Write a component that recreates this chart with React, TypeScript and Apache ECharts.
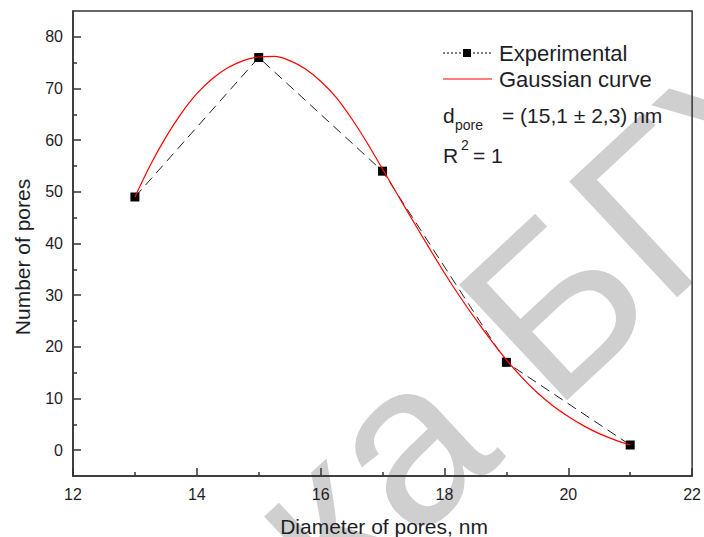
import React, { useEffect, useRef } from "react";
import * as echarts from "echarts";

const expX = [13, 15, 17, 19, 21];
const expY = [49, 76, 54, 17, 1];

const fitX = [13.0, 13.25, 13.5, 13.75, 14.0, 14.25, 14.5, 14.75, 15.0, 15.25, 15.5, 15.75, 16.0, 16.25, 16.5, 16.75, 17.0, 17.25, 17.5, 17.75, 18.0, 18.25, 18.5, 18.75, 19.0, 19.25, 19.5, 19.75, 20.0, 20.25, 20.5, 20.75, 21.0];
const fitY = [49, 55.2, 60.6, 65.2, 69.0, 71.9, 74.0, 75.4, 76.1, 76.2, 75.4, 73.8, 71.4, 68.3, 64.2, 59.5, 54.4, 49.3, 44.2, 39.2, 34.3, 29.7, 25.4, 21.3, 17.5, 14.1, 11.1, 8.6, 6.5, 4.7, 3.2, 2.0, 1.0];

const yMajorTicks = [0, 10, 20, 30, 40, 50, 60, 70, 80];
const yMinorTicks = [5, 15, 25, 35, 45, 55, 65, 75];

const FONT = "Liberation Sans, Arial, sans-serif";
const TXT = "#1e1e28";
const AX = "#333";

export default function App() {
  const ref = useRef<HTMLDivElement>(null);
  useEffect(() => {
    if (!ref.current) return;
    const chart = echarts.init(ref.current, null, { renderer: "svg" });
    const t = (text: string, x: number, y: number, size: number, extra: any = {}) => ({
      type: "text",
      x,
      y,
      z: 100,
      ...extra,
      style: {
        text,
        fontSize: size,
        fontFamily: FONT,
        fill: TXT,
        align: "left",
        verticalAlign: "middle",
        textAlign: "left",
        textVerticalAlign: "middle",
        ...(extra.style || {}),
      },
    });
    chart.setOption({
      animation: false,
      backgroundColor: "#fff",
      grid: {
        left: 73,
        right: 8,
        top: 11,
        bottom: 61,
        show: true,
        borderColor: AX,
        borderWidth: 1.5,
        backgroundColor: "transparent",
      },
      xAxis: {
        type: "value",
        min: 12,
        max: 22,
        interval: 2,
        axisLine: { show: true, onZero: false, lineStyle: { color: AX, width: 1.5 } },
        axisTick: { show: true, inside: true, length: 8, lineStyle: { color: AX, width: 1.5 } },
        minorTick: { show: true, splitNumber: 2, length: 4, lineStyle: { color: AX, width: 1.5 } },
        splitLine: { show: false },
        minorSplitLine: { show: false },
        axisLabel: { color: TXT, fontSize: 16, fontFamily: FONT, margin: 10 },
      },
      yAxis: [
        {
          type: "value",
          min: -5,
          max: 85,
          interval: 5,
          axisLine: { show: true, onZero: false, lineStyle: { color: AX, width: 1.5 } },
          axisTick: { show: true, inside: true, length: 8, customValues: yMajorTicks, lineStyle: { color: AX, width: 1.5 } },
          splitLine: { show: false },
          axisLabel: { color: TXT, fontSize: 16, fontFamily: FONT, margin: 10, customValues: yMajorTicks },
        },
        {
          type: "value",
          min: -5,
          max: 85,
          interval: 5,
          position: "left",
          axisLine: { show: false },
          axisTick: { show: true, inside: true, length: 4, customValues: yMinorTicks, lineStyle: { color: AX, width: 1.5 } },
          splitLine: { show: false },
          axisLabel: { show: false },
        },
      ],
      series: [
        {
          name: "Experimental",
          type: "line",
          data: expX.map((x, i) => [x, expY[i]]),
          symbol: "rect",
          symbolSize: 9,
          itemStyle: { color: "#000" },
          lineStyle: { color: "#222", width: 1, type: [10, 6] },
          z: 3,
        },
        {
          name: "Gaussian curve",
          type: "line",
          data: fitX.map((x, i) => [x, fitY[i]]),
          symbol: "none",
          smooth: 0.3,
          lineStyle: { color: "#ff0000", width: 1.2 },
          z: 4,
        },
      ],
      graphic: [
        {
          type: "text",
          x: 360,
          y: 642,
          rotation: (43 * Math.PI) / 180,
          z: -10,
          silent: true,
          style: {
            text: "ка БГУ",
            fontSize: 230,
            fontFamily: FONT,
            fill: "#cfcfcf",
            align: "left",
            verticalAlign: "bottom",
            textAlign: "left",
            textVerticalAlign: "bottom",
          },
        },
        t("Number of pores", 22, 257, 21, { rotation: Math.PI / 2, style: { align: "center", textAlign: "center" } }),
        t("Diameter of pores, nm", 384, 526, 21, { style: { align: "center", textAlign: "center" } }),
        // legend
        { type: "line", z: 100, shape: { x1: 443, y1: 53, x2: 462, y2: 53 }, style: { stroke: "#000", lineWidth: 1, lineDash: [2, 2] } },
        { type: "rect", z: 100, shape: { x: 463, y: 49, width: 8, height: 8 }, style: { fill: "#000" } },
        { type: "line", z: 100, shape: { x1: 473, y1: 53, x2: 492, y2: 53 }, style: { stroke: "#000", lineWidth: 1, lineDash: [2, 2] } },
        t("Experimental", 499, 53, 22),
        { type: "line", z: 100, shape: { x1: 443, y1: 79, x2: 492, y2: 79 }, style: { stroke: "#ff0000", lineWidth: 1.2 } },
        t("Gaussian curve", 499, 79, 22),
        t("d", 443, 115, 21),
        t("pore", 455, 125, 14),
        t("= (15,1 ± 2,3) nm", 502, 115, 21),
        t("R", 443, 155, 21),
        t("2", 461, 145, 14),
        t("= 1", 473, 155, 21),
      ],
    });
    return () => chart.dispose();
  }, []);
  return <div ref={ref} style={{ position: "absolute", left: 0, top: 0, width: 704, height: 537 }} />;
}
